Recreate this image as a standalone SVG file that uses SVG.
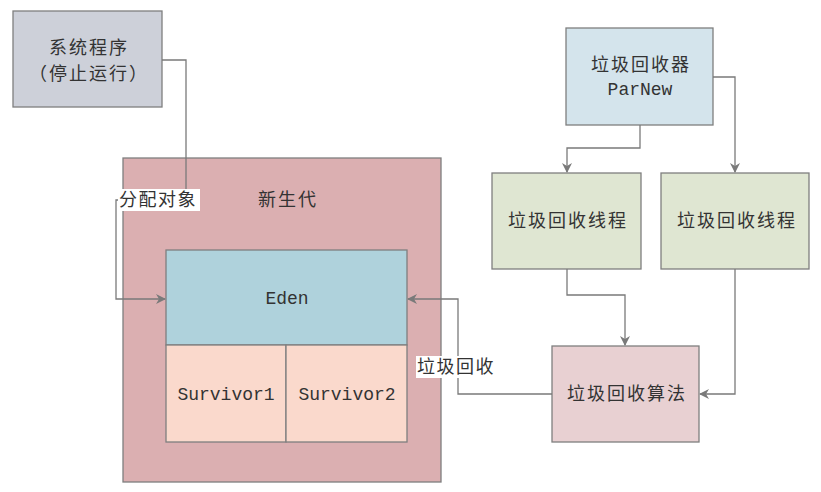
<svg xmlns="http://www.w3.org/2000/svg" width="821" height="492" viewBox="0 0 821 492">
<style>
.box{stroke:#7f7f7f;stroke-width:1.3}
.cn{font-family:"Noto Sans CJK SC","Noto Sans",sans-serif;font-size:18px;fill:#333;letter-spacing:2px}
.mono{font-family:"Liberation Mono","DejaVu Sans Mono",monospace;font-size:18px;fill:#333}
.conn{fill:none;stroke:#7a7a7a;stroke-width:1.3}
.lbl{fill:#fff}
</style>
<defs>
<marker id="arr" viewBox="0 0 10 10" refX="9" refY="5" markerWidth="10" markerHeight="10" markerUnits="userSpaceOnUse" orient="auto">
<path d="M0,0 L10,5 L0,10 L3,5 Z" fill="#7a7a7a"/>
</marker>
</defs>
<rect width="821" height="492" fill="#fff"/>
<g id="system">
<rect class="box" x="13" y="11" width="149" height="96" fill="#cdd0d9"/>
<text class="cn" x="89" y="54" text-anchor="middle">系统程序</text>
<text class="cn" x="89" y="80" text-anchor="middle">（停止运行）</text>
</g>
<g id="young">
<rect class="box" x="123" y="158" width="318" height="324" fill="#dbafb1"/>
<text class="cn" x="288" y="206" text-anchor="middle">新生代</text>
</g>
<g id="eden">
<rect class="box" x="166" y="250" width="241" height="95" fill="#afd2dc"/>
<text class="mono" x="287" y="304" text-anchor="middle">Eden</text>
</g>
<g id="survivor1">
<rect class="box" x="166" y="345" width="120" height="97" fill="#fad9cc"/>
<text class="mono" x="226" y="400" text-anchor="middle">Survivor1</text>
</g>
<g id="survivor2">
<rect class="box" x="286" y="345" width="121" height="97" fill="#fad9cc"/>
<text class="mono" x="347" y="400" text-anchor="middle">Survivor2</text>
</g>
<g id="parnew">
<rect class="box" x="566" y="28" width="147" height="97" fill="#d4e4ec"/>
<text class="cn" x="641" y="71" text-anchor="middle">垃圾回收器</text>
<text class="mono" x="640" y="95" text-anchor="middle">ParNew</text>
</g>
<g id="thread1">
<rect class="box" x="492" y="173" width="149" height="96" fill="#dfe6d2"/>
<text class="cn" x="568" y="227" text-anchor="middle">垃圾回收线程</text>
</g>
<g id="thread2">
<rect class="box" x="661" y="173" width="148" height="96" fill="#dfe6d2"/>
<text class="cn" x="737" y="227" text-anchor="middle">垃圾回收线程</text>
</g>
<g id="algorithm">
<rect class="box" x="552" y="346" width="147" height="96" fill="#e8d0d2"/>
<text class="cn" x="627" y="400" text-anchor="middle">垃圾回收算法</text>
</g>
<g id="connectors">
<path class="conn" d="M162,60 H186 V200 H116 V299 H165" marker-end="url(#arr)"/>
<path class="conn" d="M640,125 V148 H567 V172" marker-end="url(#arr)"/>
<path class="conn" d="M713,77 H735 V172" marker-end="url(#arr)"/>
<path class="conn" d="M567,269 V295 H625 V345" marker-end="url(#arr)"/>
<path class="conn" d="M735,269 V394 H700" marker-end="url(#arr)"/>
<path class="conn" d="M552,394 H458 V299 H408" marker-end="url(#arr)"/>
<rect class="lbl" x="118" y="189" width="82" height="22"/>
<text class="cn" x="119" y="206" style="letter-spacing:1.5px">分配对象</text>
<rect class="lbl" x="416" y="356" width="82" height="22"/>
<text class="cn" x="417" y="373" style="letter-spacing:1.5px">垃圾回收</text>
</g>
</svg>
